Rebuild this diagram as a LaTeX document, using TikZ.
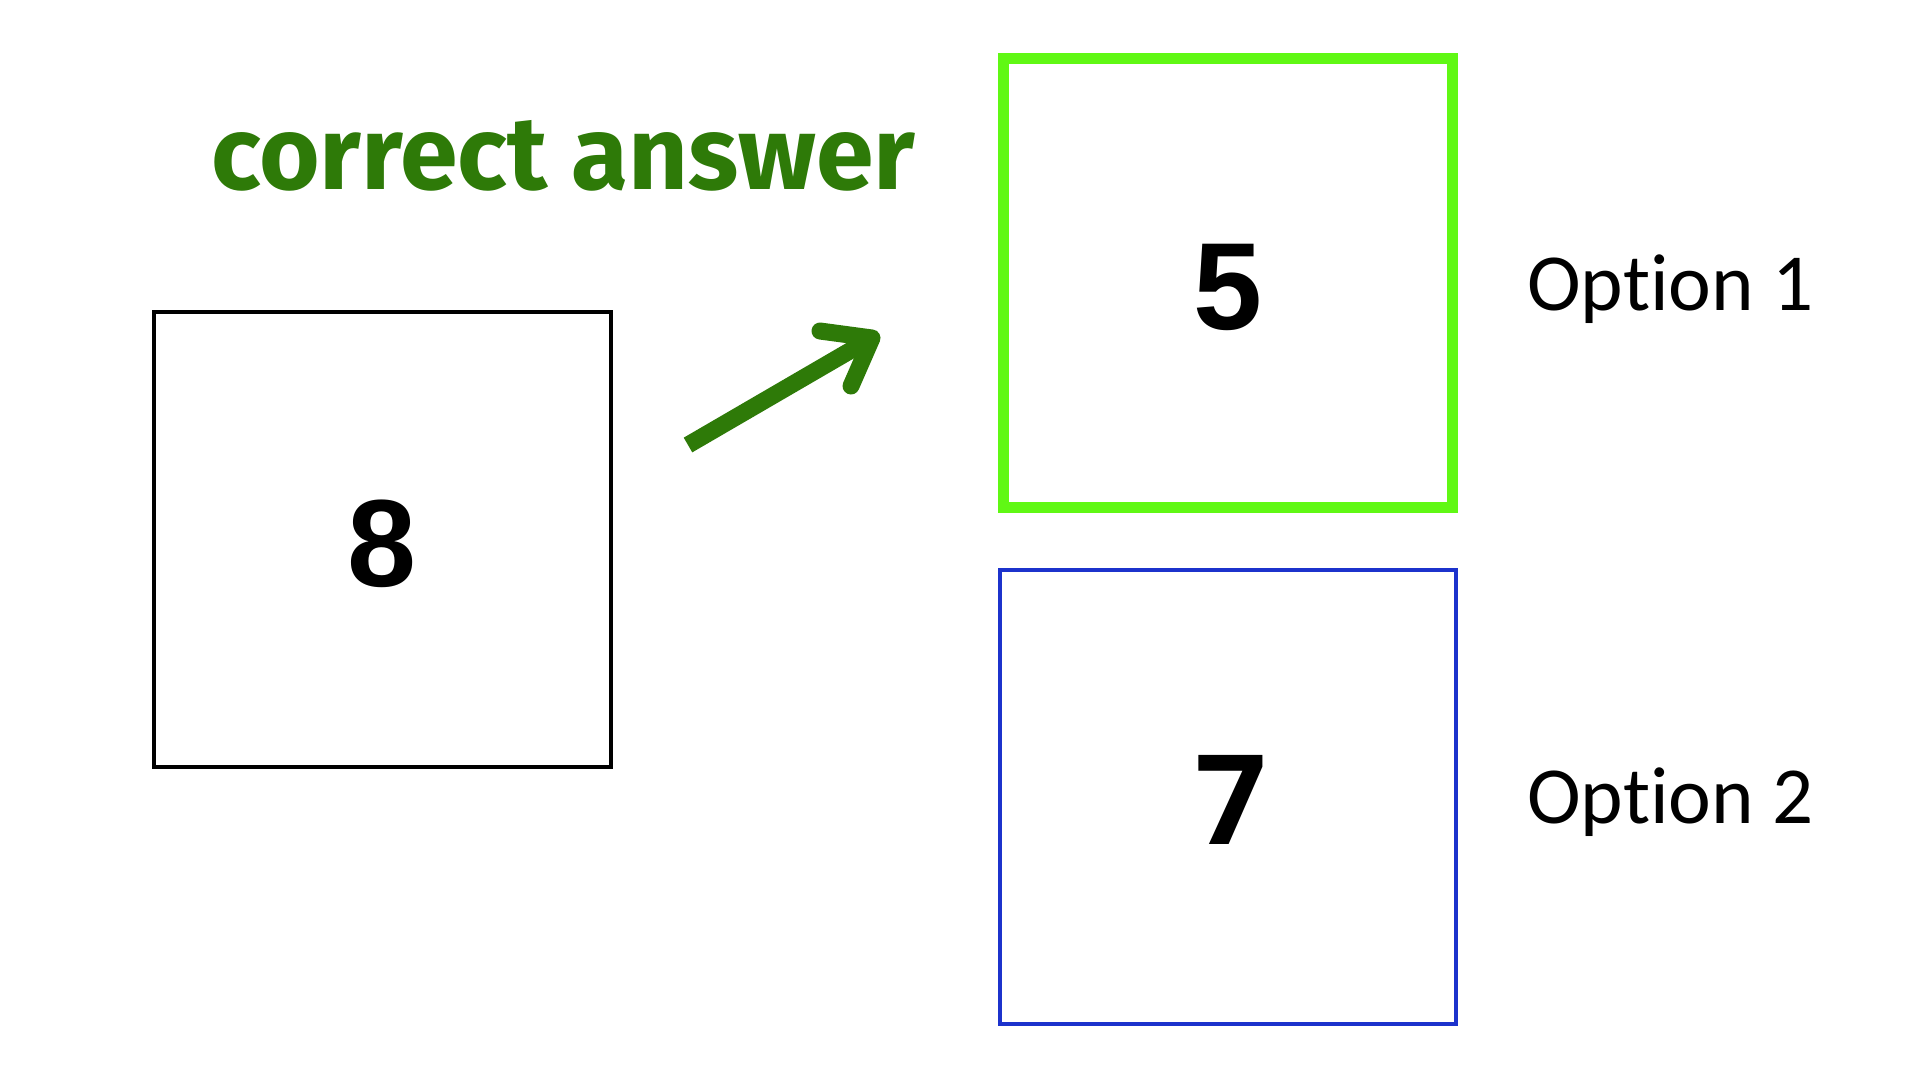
\documentclass[tikz,border=0pt]{standalone}
\usepackage{fontspec}
\setmainfont[Ligatures=NoCommon]{Carlito}
\newfontfamily\digitfont{Liberation Sans}
\newfontfamily\sevenfont{Open Sans}
\newfontfamily\labelfont{Fira Sans}
\definecolor{textgreen}{RGB}{46,122,8}
\definecolor{boxgreen}{RGB}{96,248,20}
\definecolor{boxblue}{RGB}{28,50,204}
\begin{document}
\begin{tikzpicture}[x=1pt,y=-1pt,
  digit/.style={font=\digitfont\bfseries\fontsize{124}{124}\selectfont, inner sep=0pt, anchor=center},
  option/.style={font=\fontsize{81}{90}\selectfont, inner sep=0pt, anchor=west},
  arrowline/.style={draw=textgreen, line width=17pt}]
\useasboundingbox[fill=white] (0,0) rectangle (1920,1080);
% boxes
\draw[black, line width=4pt] (154,312) rectangle (611,767);
\draw[boxgreen, line width=11pt] (1003.5,58.5) rectangle (1452.5,507.5);
\draw[boxblue, line width=4pt] (1000,569.5) rectangle (1456,1024);
% digits
\node[digit] (eight) at (382,544) {8};
\node[digit] (five) at (1228,287) {5};
\node[digit, font=\sevenfont\bfseries\fontsize{125}{125}\selectfont] (seven) at (1231,800) {7};
% labels
\node[option, anchor=base west] (opt1) at (1527,310) {Option 1};
\node[option, anchor=base west] (opt2) at (1527,823) {Option 2};
\node[font=\labelfont\bfseries\fontsize{104}{110}\selectfont, text=textgreen, inner sep=0pt, anchor=base west] (correct) at (211,189) {correct answer};
% arrow
\coordinate (astart) at (688,445);
\coordinate (atip) at (872,338);
\coordinate (arm1) at (820,331);
\coordinate (arm2) at (851,386);
\draw[arrowline] (astart) -- (atip);
\draw[arrowline, line cap=round, line join=round] (arm1) -- (atip) -- (arm2);
\end{tikzpicture}
\end{document}
